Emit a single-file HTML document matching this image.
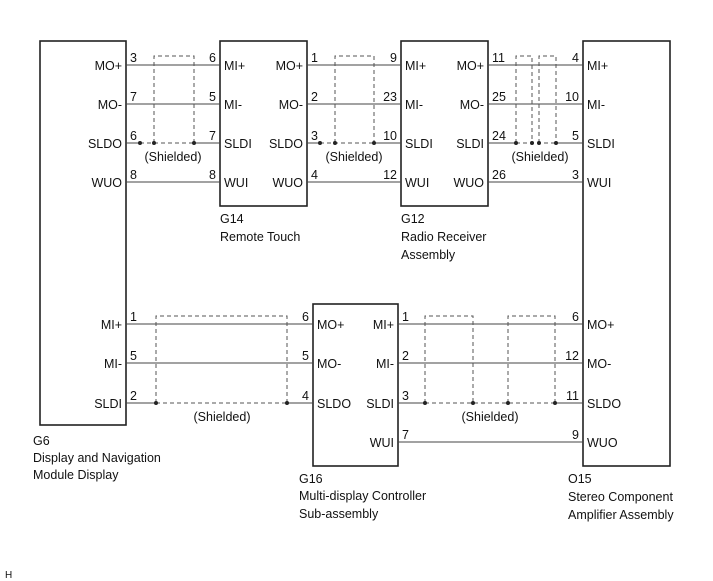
<!DOCTYPE html>
<html><head><meta charset="utf-8"><style>
html,body{margin:0;padding:0;background:#fff;}
svg{display:block;font-family:"Liberation Sans",Arial,sans-serif;font-size:12.5px;}
</style></head><body>
<svg width="713" height="581" viewBox="0 0 713 581" xmlns="http://www.w3.org/2000/svg">
<g fill="none" stroke="#222" stroke-width="1.6">
<rect x="40" y="41" width="86" height="384"/>
<rect x="220" y="41" width="87" height="165"/>
<rect x="401" y="41" width="87" height="165"/>
<rect x="583" y="41" width="87" height="425"/>
<rect x="313" y="304" width="85" height="162"/>
</g>
<g stroke="#444" stroke-width="1">
<line x1="126" y1="65" x2="220" y2="65"/><line x1="126" y1="104" x2="220" y2="104"/>
<line x1="126" y1="143" x2="140" y2="143"/><line x1="194" y1="143" x2="220" y2="143"/>
<line x1="126" y1="182" x2="220" y2="182"/>
<line x1="307" y1="65" x2="401" y2="65"/><line x1="307" y1="104" x2="401" y2="104"/>
<line x1="307" y1="143" x2="320" y2="143"/><line x1="374" y1="143" x2="401" y2="143"/>
<line x1="307" y1="182" x2="401" y2="182"/>
<line x1="488" y1="65" x2="583" y2="65"/><line x1="488" y1="104" x2="583" y2="104"/>
<line x1="488" y1="143" x2="516" y2="143"/><line x1="556" y1="143" x2="583" y2="143"/>
<line x1="488" y1="182" x2="583" y2="182"/>
<line x1="126" y1="324" x2="313" y2="324"/><line x1="126" y1="363" x2="313" y2="363"/>
<line x1="126" y1="403" x2="156" y2="403"/><line x1="287" y1="403" x2="313" y2="403"/>
<line x1="398" y1="324" x2="583" y2="324"/><line x1="398" y1="363" x2="583" y2="363"/>
<line x1="398" y1="403" x2="425" y2="403"/><line x1="555" y1="403" x2="583" y2="403"/>
<line x1="398" y1="442" x2="583" y2="442"/>
</g>
<g fill="none" stroke="#555" stroke-width="1" stroke-dasharray="4,3">
<path d="M140 143H194 M154 143V56H194V143"/>
<path d="M320 143H374 M335 143V56H374V143"/>
<path d="M516 143H556 M516 143V56H532V143 M539 143V56H556V143"/>
<path d="M156 403H287 M156 403V316H287V403"/>
<path d="M425 403H555 M425 403V316H473V403 M508 403V316H555V403"/>
</g>
<g fill="#222">
<circle cx="140" cy="143" r="2"/><circle cx="154" cy="143" r="2"/><circle cx="194" cy="143" r="2"/>
<circle cx="320" cy="143" r="2"/><circle cx="335" cy="143" r="2"/><circle cx="374" cy="143" r="2"/>
<circle cx="516" cy="143" r="2"/><circle cx="532" cy="143" r="2"/><circle cx="539" cy="143" r="2"/><circle cx="556" cy="143" r="2"/>
<circle cx="156" cy="403" r="2"/><circle cx="287" cy="403" r="2"/>
<circle cx="425" cy="403" r="2"/><circle cx="473" cy="403" r="2"/><circle cx="508" cy="403" r="2"/><circle cx="555" cy="403" r="2"/>
</g>
<g fill="#111">
<g text-anchor="end">
<text x="122" y="70">MO+</text><text x="122" y="109">MO-</text><text x="122" y="148">SLDO</text><text x="122" y="187">WUO</text>
<text x="303" y="70">MO+</text><text x="303" y="109">MO-</text><text x="303" y="148">SLDO</text><text x="303" y="187">WUO</text>
<text x="484" y="70">MO+</text><text x="484" y="109">MO-</text><text x="484" y="148">SLDI</text><text x="484" y="187">WUO</text>
<text x="122" y="329">MI+</text><text x="122" y="368">MI-</text><text x="122" y="408">SLDI</text>
<text x="394" y="329">MI+</text><text x="394" y="368">MI-</text><text x="394" y="408">SLDI</text><text x="394" y="447">WUI</text>
<text x="216" y="62">6</text><text x="216" y="101">5</text><text x="216" y="140">7</text><text x="216" y="179">8</text>
<text x="397" y="62">9</text><text x="397" y="101">23</text><text x="397" y="140">10</text><text x="397" y="179">12</text>
<text x="579" y="62">4</text><text x="579" y="101">10</text><text x="579" y="140">5</text><text x="579" y="179">3</text>
<text x="309" y="321">6</text><text x="309" y="360">5</text><text x="309" y="400">4</text>
<text x="579" y="321">6</text><text x="579" y="360">12</text><text x="579" y="400">11</text><text x="579" y="439">9</text>
</g>
<text x="224" y="70">MI+</text><text x="224" y="109">MI-</text><text x="224" y="148">SLDI</text><text x="224" y="187">WUI</text>
<text x="405" y="70">MI+</text><text x="405" y="109">MI-</text><text x="405" y="148">SLDI</text><text x="405" y="187">WUI</text>
<text x="587" y="70">MI+</text><text x="587" y="109">MI-</text><text x="587" y="148">SLDI</text><text x="587" y="187">WUI</text>
<text x="317" y="329">MO+</text><text x="317" y="368">MO-</text><text x="317" y="408">SLDO</text>
<text x="587" y="329">MO+</text><text x="587" y="368">MO-</text><text x="587" y="408">SLDO</text><text x="587" y="447">WUO</text>
<text x="130" y="62">3</text><text x="130" y="101">7</text><text x="130" y="140">6</text><text x="130" y="179">8</text>
<text x="311" y="62">1</text><text x="311" y="101">2</text><text x="311" y="140">3</text><text x="311" y="179">4</text>
<text x="492" y="62">11</text><text x="492" y="101">25</text><text x="492" y="140">24</text><text x="492" y="179">26</text>
<text x="130" y="321">1</text><text x="130" y="360">5</text><text x="130" y="400">2</text>
<text x="402" y="321">1</text><text x="402" y="360">2</text><text x="402" y="400">3</text><text x="402" y="439">7</text>
<g text-anchor="middle">
<text x="173" y="161">(Shielded)</text><text x="354" y="161">(Shielded)</text><text x="540" y="161">(Shielded)</text>
<text x="222" y="421">(Shielded)</text><text x="490" y="421">(Shielded)</text>
</g>
<text x="220" y="223">G14</text><text x="220" y="241">Remote Touch</text>
<text x="401" y="223">G12</text><text x="401" y="241">Radio Receiver</text><text x="401" y="259">Assembly</text>
<text x="33" y="445">G6</text><text x="33" y="462">Display and Navigation</text><text x="33" y="479">Module Display</text>
<text x="299" y="483">G16</text><text x="299" y="500">Multi-display Controller</text><text x="299" y="518">Sub-assembly</text>
<text x="568" y="483">O15</text><text x="568" y="501">Stereo Component</text><text x="568" y="519">Amplifier Assembly</text>
<text x="5" y="578" font-size="10">H</text>
</g>
</svg>
</body></html>
